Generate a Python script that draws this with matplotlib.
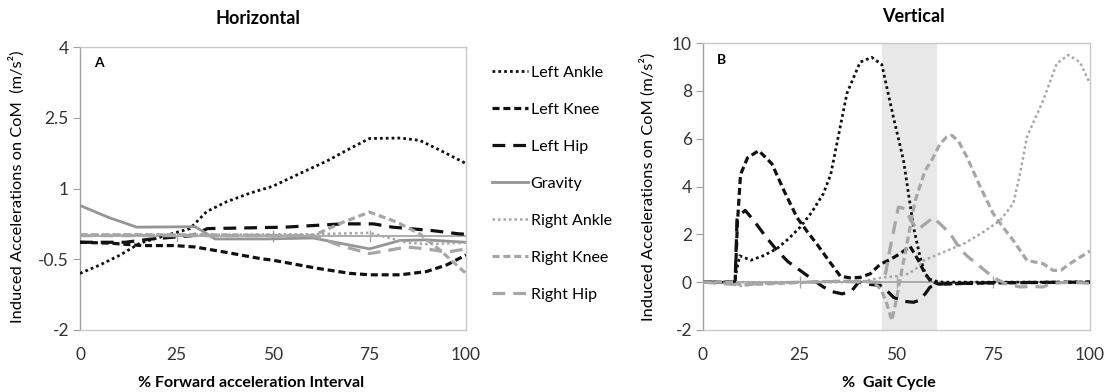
#! /usr/bin/env python3

'''Induced accelerations on the CoM, horizontal and vertical panels.'''

import numpy as np
import matplotlib
matplotlib.use('Agg')
import matplotlib.pyplot as plt

plt.rcParams['font.family'] = ['Lato', 'DejaVu Sans']

# ---------------- panel A : horizontal ----------------
h_ankle_L_x = [0, 5.2, 10.4, 15.5, 22.5, 28.5, 32.8, 38, 44, 50, 57, 63.9, 70, 75, 83, 88, 93.3, 100]
h_ankle_L_y = [-0.80, -0.62, -0.41, -0.16, 0.01, 0.15, 0.51, 0.72, 0.90, 1.05, 1.32, 1.58, 1.85, 2.06, 2.07, 2.02, 1.81, 1.53]

h_knee_L_x = [0, 8, 16, 24.6, 29.8, 37.6, 47, 50, 61.3, 70, 75, 83, 89.8, 95, 100]
h_knee_L_y = [-0.14, -0.16, -0.21, -0.21, -0.24, -0.35, -0.49, -0.52, -0.69, -0.80, -0.83, -0.83, -0.76, -0.62, -0.41]

h_hip_L_x = [0, 11.7, 18.6, 24.6, 29, 33, 40, 53, 68, 76, 81, 91, 98, 100]
h_hip_L_y = [-0.14, -0.14, -0.07, -0.03, 0.0, 0.15, 0.16, 0.18, 0.25, 0.25, 0.18, 0.11, 0.04, 0.03]

h_grav_x = [0, 7.3, 14.7, 29.8, 31.5, 35, 48, 60.4, 75, 83, 89.8, 100]
h_grav_y = [0.64, 0.39, 0.18, 0.19, 0.11, -0.07, -0.07, -0.05, -0.28, -0.10, -0.09, -0.14]

h_ankle_R_x = [0, 30, 60, 75, 85, 90, 100]
h_ankle_R_y = [0.02, 0.02, 0.03, 0.06, -0.15, -0.18, -0.15]

h_knee_R_x = [0, 30, 60.4, 68, 75, 82, 88, 93.3, 100]
h_knee_R_y = [0.02, 0.02, 0.0, 0.28, 0.50, 0.29, 0.04, -0.31, -0.80]

h_hip_R_x = [0, 30, 60.4, 67.4, 75, 80, 84.6, 89.8, 95, 100]
h_hip_R_y = [0.0, 0.0, 0.0, -0.21, -0.38, -0.31, -0.24, -0.28, -0.35, -0.28]

# ---------------- panel B : vertical ----------------
v_ankle_L_x = [0, 8.2, 8.8, 9.5, 12.4, 15.5, 19.1, 22, 25.1, 28, 31.1, 33, 34.6, 37.2, 40.6,
               43.6, 46.2, 49.2, 51.8, 54.4, 56.1, 57.4, 59.1, 62, 75, 100]
v_ankle_L_y = [0, 0, 0.6, 1.1, 0.92, 1.1, 1.4, 1.8, 2.3, 2.9, 3.7, 4.5, 5.8, 7.9, 9.2,
               9.4, 9.1, 6.9, 5.1, 2.3, 1.05, 0.35, 0.07, 0, 0, 0]

v_knee_L_x = [0, 8.3, 8.9, 9.7, 11.5, 14.4, 17.8, 21, 24.3, 27, 29.4, 32.5, 35.5, 38, 40.6,
              43.2, 45.8, 48.4, 51, 53.5, 55.7, 57.4, 58.7, 60.8, 75, 100]
v_knee_L_y = [0, 0, 2.5, 4.5, 5.2, 5.5, 4.95, 3.8, 2.7, 2.1, 1.6, 0.9, 0.25, 0.18, 0.2,
              0.35, 0.75, 0.95, 1.2, 1.5, 0.9, 0.35, 0.07, -0.08, -0.03, 0]

v_hip_L_x = [0, 8.3, 8.8, 10.9, 13, 16, 19.1, 22, 25.1, 28, 31.1, 33.5, 36, 38.5, 40.2,
             42.5, 45.8, 47.5, 49.2, 51.8, 54.4, 56, 57.4, 58.7, 60.5, 62.1, 75, 100]
v_hip_L_y = [0, 0, 2.7, 3.0, 2.6, 1.95, 1.33, 0.85, 0.49, 0.15, -0.2, -0.4, -0.49, -0.35, 0.0,
             -0.08, -0.14, -0.35, -0.63, -0.8, -0.84, -0.75, -0.49, -0.2, -0.1, -0.07, -0.02, 0]

v_ankle_R_x = [0, 20, 40, 46.6, 50, 53, 55, 57, 61.3, 67.3, 72, 76.8, 80.2, 82, 83.7,
               87.9, 91.4, 94.4, 97.4, 100]
v_ankle_R_y = [0, 0, 0, 0.2, 0.25, 0.35, 0.55, 0.9, 1.2, 1.6, 2.05, 2.58, 3.3, 4.6, 6.07,
               7.6, 9.14, 9.5, 9.2, 8.3]

v_knee_R_x = [0, 8, 10, 12, 20, 30, 40, 44, 46, 47.5, 48.8, 50, 51, 52.7, 54.8, 57.4, 59.1,
              61.3, 63, 64.3, 66, 68.2, 71.6, 75, 78, 80.2, 83.7, 87.9, 90.5, 92.5, 94.8, 97, 100]
v_knee_R_y = [0, 0, -0.15, -0.1, -0.05, 0.02, 0.05, 0, -0.3, -0.9, -1.6, -0.7, 0.2, 1.6, 3.4, 4.67, 5.1,
              5.8, 6.07, 6.14, 5.9, 5.23, 4.0, 2.86, 2.2, 1.74, 0.91, 0.77, 0.49, 0.5, 0.77, 1.0, 1.3]

v_hip_R_x = [0, 10, 15, 25, 35, 44, 46, 47.1, 48.4, 50.5, 52.2, 54, 55.5, 57.5, 59.5, 61.5,
             63.9, 66.4, 68.2, 72, 75, 78, 81.9, 85, 87.9, 90, 95, 100]
v_hip_R_y = [0, -0.12, -0.05, 0, 0.03, 0, 0, 0.3, 1.46, 3.14, 3.07, 2.5, 2.2, 2.45, 2.7, 2.4,
             2.02, 1.4, 1.1, 0.6, 0.2, -0.05, -0.2, -0.18, -0.2, -0.05, 0, -0.05]

stance_span = (46.2, 60.4)

x_ticks = [0, 25, 50, 75, 100]
h_yticks = [-2, -0.5, 1, 2.5, 4]
h_ytick_labels = ['-2', '-0.5', '1', '2.5', '4']
v_yticks = [-2, 0, 2, 4, 6, 8, 10]

labels = ['Left Ankle', 'Left Knee', 'Left Hip', 'Gravity',
          'Right Ankle', 'Right Knee', 'Right Hip']

BLACK = '#111111'
GRAY = '#a6a6a6'
styles = [
    dict(color=BLACK, lw=2.0, dashes=(1, 1.1)),
    dict(color=BLACK, lw=2.3, dashes=(2.2, 1.2)),
    dict(color=BLACK, lw=2.3, dashes=(4, 2.5)),
    dict(color='#959595', lw=2.0),
    dict(color=GRAY, lw=1.8, dashes=(1, 1.2)),
    dict(color=GRAY, lw=2.3, dashes=(2.2, 1.2)),
    dict(color=GRAY, lw=2.3, dashes=(4, 2.5)),
]


def style_axes(ax, yticks, ylabels, ylim):
    ax.set_xlim(0, 100)
    ax.set_ylim(*ylim)
    for s in ax.spines.values():
        s.set_color('#c8c8c8')
        s.set_linewidth(1.0)
    ax.spines['left'].set_color('#a0a0a0')
    ax.set_xticks(x_ticks)
    ax.set_yticks(yticks)
    ax.set_yticklabels(ylabels)
    ax.tick_params(axis='x', length=0, pad=12, labelsize=12.5, labelcolor='#333333')
    ax.tick_params(axis='y', length=5, color='#a0a0a0', pad=3, labelsize=12.5, labelcolor='#333333')
    # horizontal axis crossing at zero, with cross tick marks
    ax.axhline(0, color='#a6a6a6', lw=1.3, zorder=1)
    ax.plot(x_ticks[1:-1], [0] * 3, ls='none', marker='|', ms=8, mew=1.0,
            color='#a6a6a6', zorder=1)


fig = plt.figure(figsize=(11.07, 3.92), dpi=100)
axA = fig.add_axes([80 / 1107, 62 / 392, 386 / 1107, 283 / 392])
axB = fig.add_axes([703 / 1107, 62 / 392, 387 / 1107, 287 / 392])

style_axes(axA, h_yticks, h_ytick_labels, (-2, 4))
style_axes(axB, v_yticks, [str(v) for v in v_yticks], (-2, 10))
axB.axvspan(*stance_span, color='#e8e8e8', zorder=0, lw=0)

h_series = [(h_ankle_L_x, h_ankle_L_y), (h_knee_L_x, h_knee_L_y), (h_hip_L_x, h_hip_L_y),
            (h_grav_x, h_grav_y), (h_ankle_R_x, h_ankle_R_y), (h_knee_R_x, h_knee_R_y),
            (h_hip_R_x, h_hip_R_y)]
v_series = [(v_ankle_L_x, v_ankle_L_y), (v_knee_L_x, v_knee_L_y), (v_hip_L_x, v_hip_L_y),
            (v_ankle_R_x, v_ankle_R_y), (v_knee_R_x, v_knee_R_y), (v_hip_R_x, v_hip_R_y)]

handles = []
for (x, y), lab, st in zip(h_series, labels, styles):
    h, = axA.plot(x, y, label=lab, zorder=3, **st)
    handles.append(h)

v_styles = styles[:3] + styles[4:]
for (x, y), st in zip(v_series, v_styles):
    axB.plot(x, y, zorder=3, **st)

axA.text(0.036, 0.945, 'A', transform=axA.transAxes, fontsize=10, fontweight='bold', va='center')
axB.text(0.036, 0.94, 'B', transform=axB.transAxes, fontsize=10, fontweight='bold', va='center')

fig.text(258 / 1107, 1 - 18 / 392, 'Horizontal', ha='center', va='center', fontsize=13, fontweight='bold')
fig.text(913 / 1107, 1 - 17 / 392, 'Vertical', ha='center', va='center', fontsize=13, fontweight='bold')
fig.text(251 / 1107, 1 - 383 / 392, '% Forward acceleration Interval', ha='center', va='center',
         fontsize=11.5, fontweight='bold')
fig.text(889 / 1107, 1 - 383 / 392, '%  Gait Cycle', ha='center', va='center',
         fontsize=11.5, fontweight='bold')
fig.text(17 / 1107, 1 - 187 / 392, 'Induced Accelerations on CoM  (m/s²)', rotation=90,
         ha='center', va='center', fontsize=11.8)
fig.text(648 / 1107, 1 - 187 / 392, 'Induced Accelerations on CoM (m/s²)', rotation=90,
         ha='center', va='center', fontsize=11.8)

fig.legend(handles=handles, loc='upper left', bbox_to_anchor=(486 / 1107, 1 - 59 / 392),
           frameon=False, fontsize=11.5, handlelength=2.2, handletextpad=0.2,
           labelspacing=1.43, borderaxespad=0)

fig.savefig('out.png', dpi=100)
